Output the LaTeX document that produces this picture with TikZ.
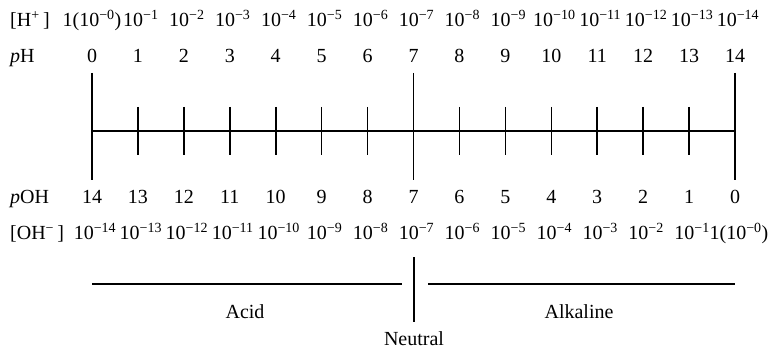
\documentclass[tikz,border=0pt]{standalone}
\usepackage{fontspec}
\setmainfont{Liberation Serif}
\usetikzlibrary{positioning}
\newcommand{\tenpow}[1]{10\textsuperscript{−#1}}

\begin{document}
\begin{tikzpicture}[x=1pt,y=-1pt,
 every node/.style={font=\fontsize{20}{22}\selectfont,inner sep=0pt},
 rowlabel/.style={anchor=base west},
 value/.style={anchor=base},
 power/.style={anchor=base,xshift=3pt},
 rule/.style={line width=1.6pt}]
\useasboundingbox (0,0) rectangle (769,350);
% row labels
\node[rowlabel] (hlab) at (10,27) {[H\textsuperscript{+}\,]};
\node[rowlabel] (phlab) at (10,63) {\textit{p}H};
\node[rowlabel] (pohlab) at (10,204) {\textit{p}OH};
\node[rowlabel] (ohlab) at (10,240) {[OH\textsuperscript{−}\,]};
% scale
\foreach \i in {0,...,14} \coordinate (t\i) at ({92+45.93*\i},131);
\draw[rule] (t0) -- (t14);
\foreach \i in {0,7,14} \draw[rule] ([yshift=58pt]t\i) -- ([yshift=-49pt]t\i);
\foreach \i in {1,2,3,4,5,6,8,9,10,11,12,13} \draw[rule] ([yshift=24pt]t\i) -- ([yshift=-24pt]t\i);
% values
\node[power,xshift=-3pt] (h0) at (t0 |- hlab.base) {1(\tenpow{0})};
\foreach \i in {1,...,14} \node[power] (h\i) at (t\i |- hlab.base) {\tenpow{\i}};
\foreach \i in {0,...,14} {
  \pgfmathtruncatemacro\j{14-\i}
  \node[value] (ph\i) at (t\i |- phlab.base) {\i};
  \node[value] (poh\i) at (t\i |- pohlab.base) {\j};
}
\foreach \i in {0,...,13} {
  \pgfmathtruncatemacro\j{14-\i}
  \node[power] (oh\i) at (t\i |- ohlab.base) {\tenpow{\j}};
}
\node[power,xshift=1pt] (oh14) at (t14 |- ohlab.base) {1(\tenpow{0})};
% acid / alkaline
\coordinate (acidL) at (92,284);
\coordinate (acidR) at (402,284);
\coordinate (alkL) at (428,284);
\coordinate (alkR) at (735,284);
\coordinate (nTop) at (414,257);
\coordinate (nBot) at (414,322);
\draw[rule] (acidL) -- (acidR);
\draw[rule] (alkL) -- (alkR);
\draw[rule] (nTop) -- (nBot);
\node[value] (acid) at (245,318) {Acid};
\node[value] (alkaline) at (579,318) {Alkaline};
\node[value] (neutral) at (414,345) {Neutral};
\end{tikzpicture}
\end{document}
